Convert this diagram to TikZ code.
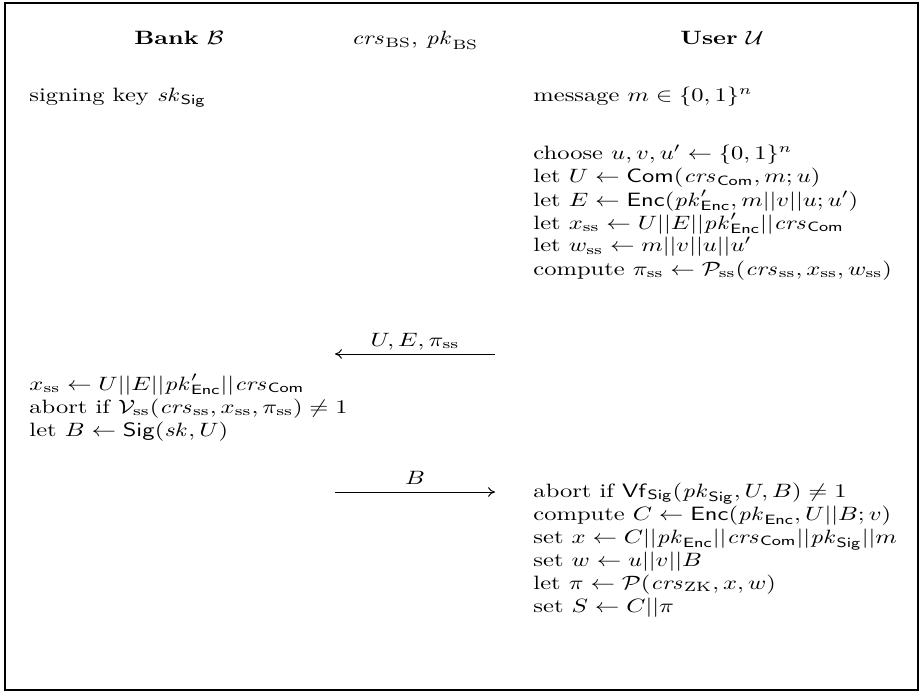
\documentclass[tikz,border=0pt]{standalone}
\usepackage{amsmath,amssymb}
\usetikzlibrary{arrows.meta}
\begin{document}
\begin{tikzpicture}[x=0.518pt,y=-0.518pt,
  txt/.style={anchor=base west,inner sep=0pt,xscale=1.27},
  hdr/.style={anchor=base,inner sep=0pt,xscale=1.27},
  msg/.style={-{Computer Modern Rightarrow[length=3.6pt,width=5pt]},line width=0.5pt},
  frame/.style={line width=0.8pt}]
\useasboundingbox (0,0) rectangle (919,692);
\draw[frame] (5,3) rectangle (918,690);
% headers
\node[hdr] (hB) at (179,45) {\textbf{Bank} $\mathcal{B}$};
\node[hdr] (hC) at (415,45) {$\mathit{crs}_{\mathrm{BS}}$, $\mathit{pk}_{\mathrm{BS}}$};
\node[hdr] (hU) at (722,45) {\textbf{User} $\mathcal{U}$};
% initial
\node[txt] (b0) at (29,102) {signing key $\mathit{sk}_{\mathsf{Sig}}$};
\node[txt] (u0) at (533,102) {message $m\in\{0,1\}^n$};
% user block 1
\node[txt] (u1) at (533,160) {choose $u,v,u'\leftarrow\{0,1\}^n$};
\node[txt] (u2) at (533,183) {let $U\leftarrow\mathsf{Com}(\mathit{crs}_{\mathsf{Com}},m;u)$};
\node[txt] (u3) at (533,206) {let $E\leftarrow\mathsf{Enc}(\mathit{pk}'_{\mathsf{Enc}},m||v||u;u')$};
\node[txt] (u4) at (533,229) {let $x_{\mathrm{ss}}\leftarrow U||E||\mathit{pk}'_{\mathsf{Enc}}||\mathit{crs}_{\mathsf{Com}}$};
\node[txt] (u5) at (533,252) {let $w_{\mathrm{ss}}\leftarrow m||v||u||u'$};
\node[txt] (u6) at (533,275) {compute $\pi_{\mathrm{ss}}\leftarrow\mathcal{P}_{\mathrm{ss}}(\mathit{crs}_{\mathrm{ss}},x_{\mathrm{ss}},w_{\mathrm{ss}})$};
% message 1
\node[hdr] (m1) at (415,346) {$U,E,\pi_{\mathrm{ss}}$};
\coordinate (m1s) at (495,354);
\coordinate (m1e) at (335,354);
\draw[msg] (m1s) -- (m1e);
% bank block
\node[txt] (b1) at (29,390) {$x_{\mathrm{ss}}\leftarrow U||E||\mathit{pk}'_{\mathsf{Enc}}||\mathit{crs}_{\mathsf{Com}}$};
\node[txt] (b2) at (29,413) {abort if $\mathcal{V}_{\mathrm{ss}}(\mathit{crs}_{\mathrm{ss}},x_{\mathrm{ss}},\pi_{\mathrm{ss}})\neq1$};
\node[txt] (b3) at (29,436) {let $B\leftarrow\mathsf{Sig}(\mathit{sk},U)$};
% message 2
\node[hdr] (m2) at (415,484) {$B$};
\coordinate (m2s) at (335,492);
\coordinate (m2e) at (495,492);
\draw[msg] (m2s) -- (m2e);
% user block 2
\node[txt] (v1) at (533,497) {abort if $\mathsf{Vf}_{\mathsf{Sig}}(\mathit{pk}_{\mathsf{Sig}},U,B)\neq1$};
\node[txt] (v2) at (533,520) {compute $C\leftarrow\mathsf{Enc}(\mathit{pk}_{\mathsf{Enc}},U||B;v)$};
\node[txt] (v3) at (533,543) {set $x\leftarrow C||\mathit{pk}_{\mathsf{Enc}}||\mathit{crs}_{\mathsf{Com}}||\mathit{pk}_{\mathsf{Sig}}||m$};
\node[txt] (v4) at (533,566) {set $w\leftarrow u||v||B$};
\node[txt] (v5) at (533,589) {let $\pi\leftarrow\mathcal{P}(\mathit{crs}_{\mathrm{ZK}},x,w)$};
\node[txt] (v6) at (533,612) {set $S\leftarrow C||\pi$};
\end{tikzpicture}
\end{document}
